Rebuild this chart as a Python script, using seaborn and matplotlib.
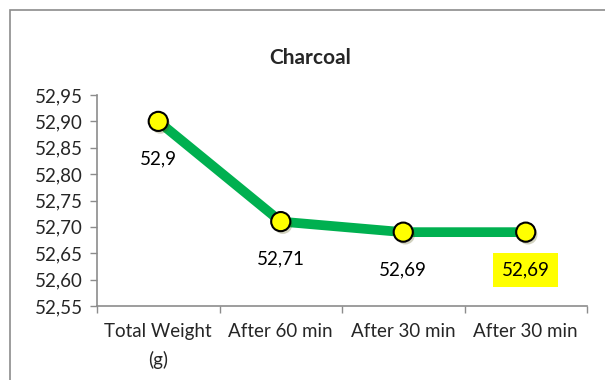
import matplotlib
matplotlib.use("Agg")
import matplotlib.pyplot as plt
import matplotlib.patheffects as pe
from matplotlib.patches import Rectangle
from matplotlib.ticker import FixedLocator, FuncFormatter
import seaborn as sns
import pandas as pd

categories = ["Total Weight\n(g)", "After 60 min", "After 30 min", "After 30 min"]
weights = [52.90, 52.71, 52.69, 52.69]
value_labels = ["52,9", "52,71", "52,69", "52,69"]
y_ticks = [52.55, 52.60, 52.65, 52.70, 52.75, 52.80, 52.85, 52.90, 52.95]

sns.set_theme(style="white")
plt.rcParams["font.family"] = ["Lato", "DejaVu Sans"]

df = pd.DataFrame({"step": range(len(weights)), "weight": weights})

fig = plt.figure(figsize=(6.05, 3.8), dpi=100)
ax = fig.add_axes([97 / 605, 1 - 306 / 380, (587 - 97) / 605, (306 - 95) / 380])

# chart frame
fig.add_artist(Rectangle((10 / 605, -0.05), 1.0, 1 - 10 / 380 + 0.05,
                         transform=fig.transFigure, fill=False,
                         edgecolor="#8c8c8c", linewidth=1.2))

sns.lineplot(data=df, x="step", y="weight", ax=ax, color="#00b050",
             linewidth=7, solid_capstyle="butt", zorder=2)
sns.scatterplot(data=df, x="step", y="weight", ax=ax, s=190, color="#ffff00",
                edgecolor="black", linewidth=1.5, zorder=3,
                path_effects=[pe.SimplePatchShadow(offset=(1.5, -2), alpha=0.25),
                              pe.Normal()])

for i, (w, lab) in enumerate(zip(weights, value_labels)):
    kw = {}
    if i == len(weights) - 1:
        kw["bbox"] = dict(boxstyle="square,pad=0.45", facecolor="#ffff00",
                          edgecolor="none")
    ax.annotate(lab, (i, w), xytext=(0, -27), textcoords="offset points",
                ha="center", va="center", fontsize=13.5, color="black", **kw)

ax.set_xlim(-0.5, len(weights) - 0.5)
ax.set_ylim(52.55, 52.95)
ax.yaxis.set_major_locator(FixedLocator(y_ticks))
ax.yaxis.set_major_formatter(FuncFormatter(lambda v, p: f"{v:.2f}".replace(".", ",")))
ax.set_xticks(range(len(categories)))
ax.set_xticklabels(categories, fontsize=13.5, linespacing=1.75)
ax.set_xticks([i - 0.5 for i in range(len(categories) + 1)], minor=True)
ax.tick_params(axis="x", which="major", length=0, pad=12)
ax.tick_params(axis="x", which="minor", length=5, color="#8c8c8c", width=1,
               direction="out", bottom=True)
ax.tick_params(axis="y", which="major", length=5, color="#8c8c8c", width=1,
               direction="out", left=True, labelsize=13.5, pad=5)
ax.set_xlabel("")
ax.set_ylabel("")
for side in ["top", "right"]:
    ax.spines[side].set_visible(False)
for side in ["left", "bottom"]:
    ax.spines[side].set_color("#8c8c8c")
    ax.spines[side].set_linewidth(1.2)

fig.text(310 / 605, 1 - 58 / 380, "Charcoal", ha="center", va="center",
         fontsize=15, fontweight="bold")

fig.savefig("out.png", dpi=100, facecolor="white")
